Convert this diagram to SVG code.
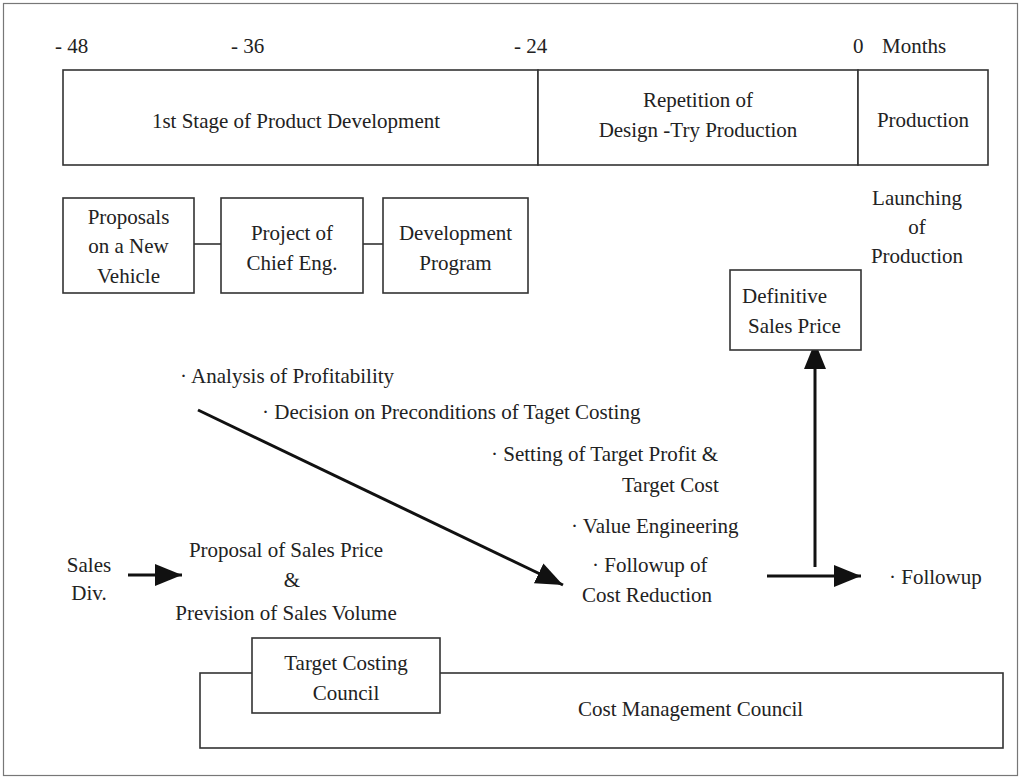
<svg xmlns="http://www.w3.org/2000/svg" width="1021" height="779" viewBox="0 0 1021 779">
<defs>
<marker id="ah" markerUnits="userSpaceOnUse" markerWidth="28" markerHeight="24" refX="27" refY="12" orient="auto">
<path d="M0,1 L27,12 L0,23 z" fill="#111"/>
</marker>
<style>
text{font-family:"Liberation Serif","Times New Roman",serif;font-size:21px;fill:#222}
.m{text-anchor:middle}
.box{fill:#fff;stroke:#333;stroke-width:1.6}
.ln{stroke:#333;stroke-width:1.6;fill:none}
.arr{stroke:#111;stroke-width:3;fill:none;marker-end:url(#ah)}
</style>
</defs>
<rect x="0" y="0" width="1021" height="779" fill="#fff"/>
<rect x="3.5" y="3.5" width="1014" height="772" fill="none" stroke="#777" stroke-width="1.2"/>

<g id="timeline">
<text x="55" y="53">- 48</text>
<text x="231" y="53">- 36</text>
<text x="514" y="53">- 24</text>
<text x="853" y="53">0</text>
<text x="882" y="53">Months</text>
</g>

<g id="stage1">
<rect class="box" x="63" y="70" width="475" height="95"/>
<text class="m" x="296" y="128">1st Stage of Product Development</text>
</g>
<g id="stage2">
<rect class="box" x="538" y="70" width="320" height="95"/>
<text class="m" x="698" y="107">Repetition of</text>
<text class="m" x="698" y="137">Design -Try Production</text>
</g>
<g id="stage3">
<rect class="box" x="858" y="70" width="130" height="95"/>
<text class="m" x="923" y="127">Production</text>
</g>

<g id="connectors">
<line class="ln" x1="194" y1="244" x2="221" y2="244"/>
<line class="ln" x1="363" y1="244" x2="383" y2="244"/>
<line class="arr" x1="198" y1="410" x2="563" y2="585"/>
<line class="arr" x1="128" y1="575" x2="182" y2="575"/>
<line class="arr" x1="767" y1="576" x2="861" y2="576"/>
<line class="arr" x1="815" y1="567" x2="815" y2="342"/>
</g>

<g id="proposals">
<rect class="box" x="63" y="198" width="131" height="95"/>
<text class="m" x="128.5" y="224">Proposals</text>
<text class="m" x="128.5" y="253">on a New</text>
<text class="m" x="128.5" y="283">Vehicle</text>
</g>
<g id="project">
<rect class="box" x="221" y="198" width="142" height="95"/>
<text class="m" x="292" y="240">Project of</text>
<text class="m" x="292" y="270">Chief Eng.</text>
</g>
<g id="devprogram">
<rect class="box" x="383" y="198" width="145" height="95"/>
<text class="m" x="455.5" y="240">Development</text>
<text class="m" x="455.5" y="270">Program</text>
</g>

<g id="launching">
<text class="m" x="917" y="205">Launching</text>
<text class="m" x="917" y="234">of</text>
<text class="m" x="917" y="263">Production</text>
</g>

<g id="definitive">
<rect class="box" x="730" y="270" width="131" height="80"/>
<text x="742" y="303">Definitive</text>
<text x="748" y="333">Sales Price</text>
</g>

<g id="activities">
<text x="180" y="383">· Analysis of Profitability</text>
<text x="262" y="419">· Decision on Preconditions of Taget Costing</text>
<text x="491" y="461">· Setting of Target Profit &amp;</text>
<text x="622" y="492">Target Cost</text>
<text x="571" y="533">· Value Engineering</text>
</g>

<g id="salesdiv">
<text class="m" x="89" y="572">Sales</text>
<text class="m" x="89" y="600">Div.</text>
</g>

<g id="proposal-price">
<text class="m" x="286" y="557">Proposal of Sales Price</text>
<text class="m" x="292" y="587">&amp;</text>
<text class="m" x="286" y="620">Prevision of Sales Volume</text>
</g>

<g id="followup-cost">
<text x="592" y="572">· Followup of</text>
<text x="582" y="602">Cost Reduction</text>
</g>

<g id="followup">
<text x="889" y="584">· Followup</text>
</g>

<g id="cost-management-council">
<rect class="box" x="200" y="673" width="803" height="75"/>
<text x="578" y="716">Cost Management Council</text>
</g>
<g id="target-costing-council">
<rect class="box" x="252" y="638" width="188" height="75"/>
<text class="m" x="346" y="670">Target Costing</text>
<text class="m" x="346" y="700">Council</text>
</g>
</svg>
